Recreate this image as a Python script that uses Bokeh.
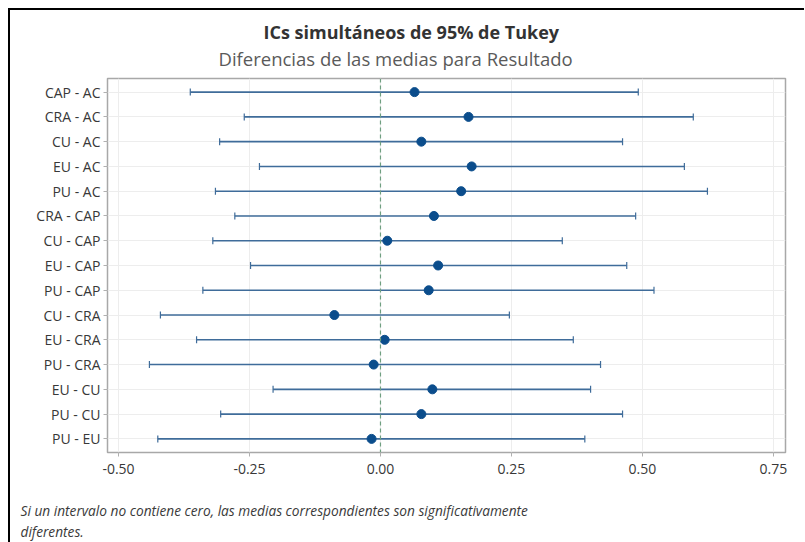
from bokeh.plotting import figure
from bokeh.models import (ColumnDataSource, Range1d, FixedTicker, Whisker, TeeHead,
                          Span, Title)
from bokeh.embed import file_html
from bokeh.resources import INLINE

# ---- data ----
comparisons = ["CAP - AC", "CRA - AC", "CU - AC", "EU - AC", "PU - AC",
               "CRA - CAP", "CU - CAP", "EU - CAP", "PU - CAP",
               "CU - CRA", "EU - CRA", "PU - CRA",
               "EU - CU", "PU - CU", "PU - EU"]
lower = [-0.363, -0.260, -0.307, -0.231, -0.315,
         -0.278, -0.320, -0.248, -0.339,
         -0.420, -0.351, -0.441,
         -0.205, -0.305, -0.425]
diff = [0.065, 0.168, 0.078, 0.174, 0.154,
        0.102, 0.013, 0.110, 0.092,
        -0.088, 0.008, -0.013,
        0.099, 0.078, -0.017]
upper = [0.492, 0.597, 0.462, 0.580, 0.624,
         0.487, 0.347, 0.470, 0.522,
         0.246, 0.368, 0.420,
         0.401, 0.462, 0.390]
x_ticks = [-0.50, -0.25, 0.00, 0.25, 0.50, 0.75]
x_tick_labels = ["-0.50", "-0.25", "0.00", "0.25", "0.50", "0.75"]

title_text = "ICs simultáneos de 95% de Tukey"
subtitle_text = "Diferencias de las medias para Resultado"
note1 = "Si un intervalo no contiene cero, las medias correspondientes son significativamente"
note2 = "diferentes."

n = len(comparisons)
ypos = [n - i for i in range(n)]

src = ColumnDataSource(dict(y=ypos, lo=lower, d=diff, hi=upper, name=comparisons))

FONT = "Open Sans"

p = figure(width=794, height=532, output_backend="svg", toolbar_location=None,
           x_range=Range1d(-0.521, 0.773), y_range=Range1d(0.45, 15.55),
           frame_width=678, frame_height=374,
           min_border_left=97, min_border_right=19, min_border_top=68, min_border_bottom=90,
           background_fill_color="white", border_fill_color="white")
p.styles = {"margin-top": "8px", "margin-left": "8px",
            "border-top": "2px solid black", "border-left": "2px solid black"}

p.outline_line_color = "#a8a8a8"
p.outline_line_width = 1.5

# grids
p.xgrid.ticker = FixedTicker(ticks=x_ticks)
p.ygrid.ticker = FixedTicker(ticks=ypos)
p.xgrid.grid_line_color = "#ededed"
p.ygrid.grid_line_color = "#ededed"

# axes
p.xaxis.ticker = FixedTicker(ticks=x_ticks)
p.xaxis.major_label_overrides = {t: l for t, l in zip(x_ticks, x_tick_labels)}
p.yaxis.ticker = FixedTicker(ticks=ypos)
p.yaxis.major_label_overrides = {y: c for y, c in zip(ypos, comparisons)}
for ax in (p.xaxis, p.yaxis):
    ax.axis_line_color = None
    ax.major_tick_line_color = "#b0b0b0"
    ax.major_tick_in = 0
    ax.major_tick_out = 4
    ax.minor_tick_line_color = None
    ax.major_label_text_font = FONT
    ax.major_label_text_font_size = "14px"
    ax.major_label_text_color = "#383838"
p.yaxis.major_label_standoff = 3
p.xaxis.major_label_standoff = 7

# zero reference line
p.add_layout(Span(location=0, dimension="height", line_color="#6f9f80",
                  line_width=1.2, line_dash="4 3"))

# intervals
wh = Whisker(source=src, base="y", lower="lo", upper="hi", dimension="width",
             line_color="#3f6c9a", line_width=1.6,
             lower_head=TeeHead(size=7, line_color="#3f6c9a", line_width=1.2),
             upper_head=TeeHead(size=7, line_color="#3f6c9a", line_width=1.2))
p.add_layout(wh)

p.scatter(x="d", y="y", source=src, size=9, fill_color="#0b4d8c",
          line_color="#0b4d8c")

# ---- titles (first added = closest to the frame) ----
p.add_layout(Title(text=" ", text_font_size="1px", standoff=5), "above")  # spacer
p.add_layout(Title(text=subtitle_text, align="left", offset=111, vertical_align="bottom",
                   text_font=FONT, text_font_size="18.5px",
                   text_font_style="normal", text_color="#5a5a5a", standoff=0), "above")
p.add_layout(Title(text=title_text, align="left", offset=156, vertical_align="bottom",
                   text_font=FONT, text_font_size="18px",
                   text_font_style="bold", text_color="#333333", standoff=0), "above")

# ---- foot note ----
p.add_layout(Title(text=" ", text_font_size="1px", standoff=21), "below")  # spacer
p.add_layout(Title(text=note1, align="left", offset=-87, vertical_align="top",
                   text_font=FONT, text_font_size="13.7px",
                   text_font_style="italic", text_color="#3a3a3a", standoff=0), "below")
p.add_layout(Title(text=note2, align="left", offset=-87, vertical_align="top",
                   text_font=FONT, text_font_size="13.7px",
                   text_font_style="italic", text_color="#3a3a3a", standoff=0), "below")

open("out.html", "w").write(file_html(p, INLINE))
